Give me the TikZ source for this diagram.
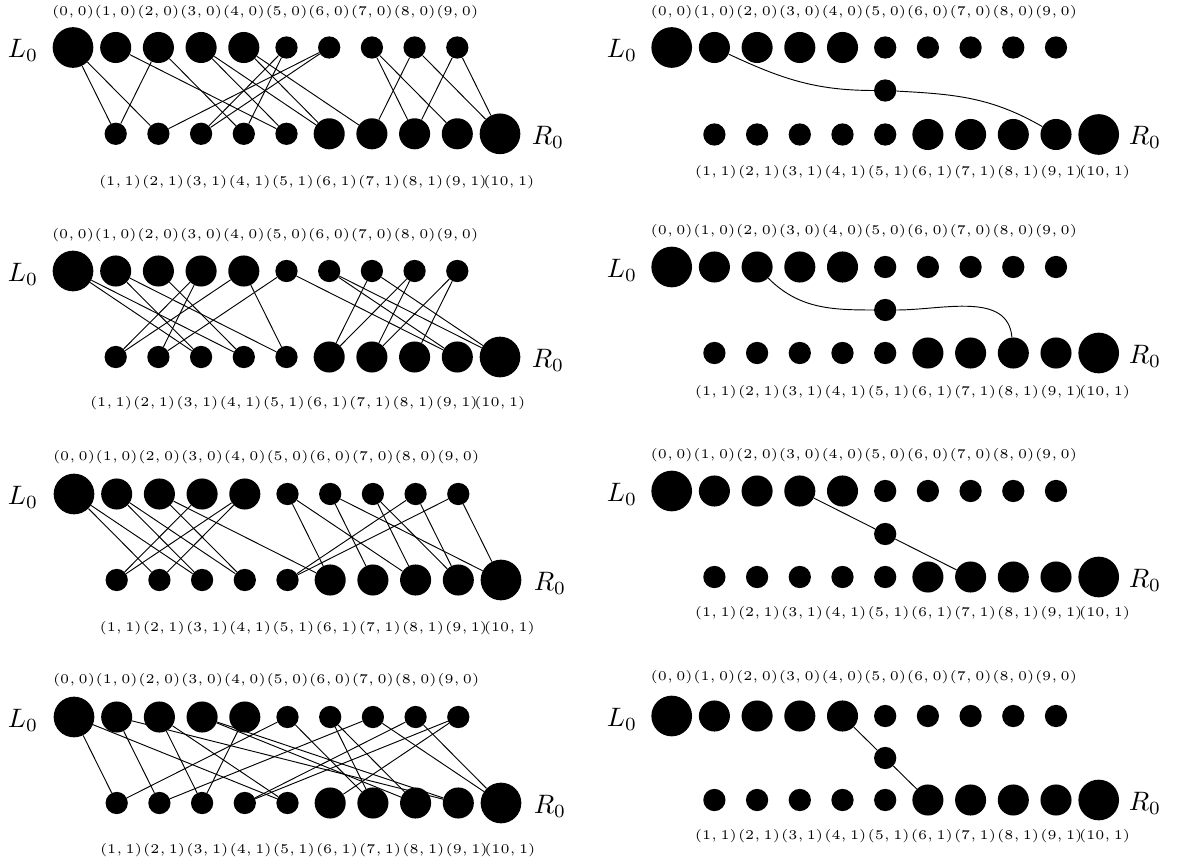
\documentclass[tikz,border=0pt]{standalone}
\tikzset{
  vtx/.style={circle,fill=black,draw=none,inner sep=0pt},
  coordlab/.style={font=\tiny,inner sep=0pt},
  sidelab/.style={inner sep=0pt},
  link/.style={line width=0.7pt},
}
% top row: prefix, x0, ytop, ylabel
\newcommand\toprow[4]{%
  \foreach \i in {0,...,9}{%
    \pgfmathsetmacro\xx{#2+42.7*\i}%
    \ifnum\i=0 \def\vsz{30.5pt}\else\ifnum\i<5 \def\vsz{23.3pt}\else\def\vsz{16.7pt}\fi\fi
    \node[vtx,minimum size=\vsz] (#1t\i) at (\xx,#3) {};
    \node[coordlab] (#1tl\i) at (\xx,#4) {\scalebox{2}{$(\i,0)$}};
  }}
% bottom row: prefix, x0, ybot, ylabel, label x of (1,1)
\newcommand\botrow[5]{%
  \foreach \j in {1,...,10}{%
    \pgfmathsetmacro\xx{#2+42.7*\j}%
    \pgfmathsetmacro\lx{#5+43.2*(\j-1)}%
    \ifnum\j=10 \def\vsz{30.5pt}\else\ifnum\j>5 \def\vsz{23.3pt}\else\def\vsz{16.7pt}\fi\fi
    \node[vtx,minimum size=\vsz] (#1b\j) at (\xx,#3) {};
    \node[coordlab] (#1bl\j) at (\lx,#4) {\scalebox{2}{$(\j,1)$}};
  }}
\newcommand\links[2]{\foreach \a/\b in {#2}{\draw[link] (#1t\a) -- (#1b\b);}}
\newcommand\sidetext[1]{\scalebox{2}{$#1$}}
\begin{document}
\begin{tikzpicture}[x=0.75pt,y=-0.75pt]
\useasboundingbox (0,0) rectangle (1178,866);
% ---------------- left column ----------------
% row 1
\toprow{a}{73}{47.5}{12}
\botrow{a}{73}{133.8}{182}{120}
\node[sidelab] (aL) at (23,50.5) {\sidetext{L_0}};
\node[sidelab] (aR) at (548,137) {\sidetext{R_0}};
\links{a}{0/1,0/2,1/5,2/1,2/4,3/5,3/6,4/6,4/7,5/3,5/4,6/2,6/3,7/8,7/9,8/7,8/10,9/8,9/10}
% row 2
\toprow{b}{73}{271}{235}
\botrow{b}{73}{357}{403}{111}
\node[sidelab] (bL) at (23,274) {\sidetext{L_0}};
\node[sidelab] (bR) at (548,360) {\sidetext{R_0}};
\links{b}{0/3,0/4,1/3,1/5,2/4,3/1,3/2,4/1,4/5,5/2,5/9,6/9,6/10,7/6,7/10,8/6,8/7,9/7,9/8}
% row 3
\toprow{c}{74}{494}{457}
\botrow{c}{74}{580}{628}{120.6}
\node[sidelab] (cL) at (23,497) {\sidetext{L_0}};
\node[sidelab] (cR) at (550,583) {\sidetext{R_0}};
\links{c}{0/2,0/3,1/3,1/4,2/4,2/6,3/1,4/1,4/2,5/6,5/8,6/7,6/10,7/8,7/9,8/5,8/9,9/5,9/10}
% row 4
\toprow{d}{74}{717}{680}
\botrow{d}{74}{803}{850}{121}
\node[sidelab] (dL) at (23,720) {\sidetext{L_0}};
\node[sidelab] (dR) at (550,806) {\sidetext{R_0}};
\links{d}{0/1,0/5,1/2,1/9,2/3,2/5,3/8,3/9,4/3,5/1,5/7,6/7,6/8,7/2,7/10,8/4,8/10,9/4,9/6}
% ---------------- right column ----------------
% row 1
\toprow{e}{671.7}{47.5}{11.7}
\botrow{e}{671.7}{134.5}{171.7}{715.8}
\node[vtx,minimum size=16.7pt] (em) at (885.2,90.5) {};
\node[sidelab] (eL) at (622,50.5) {\sidetext{L_0}};
\node[sidelab] (eR) at (1145,137.5) {\sidetext{R_0}};
\draw[link] (et1) to[out=-25,in=180] (em) to[out=-3,in=150] (eb9);
% row 2
\toprow{f}{671.7}{267}{231}
\botrow{f}{671.7}{353}{392}{715.8}
\node[vtx,minimum size=16.7pt] (fm) at (885.2,310) {};
\node[sidelab] (fL) at (622,270) {\sidetext{L_0}};
\node[sidelab] (fR) at (1145,356) {\sidetext{R_0}};
\draw[link] (ft2) to[out=-45,in=180] (fm) to[out=0,in=95] (fb8);
% row 3
\toprow{g}{671.7}{491}{455}
\botrow{g}{671.7}{577}{613}{715.8}
\node[vtx,minimum size=16.7pt] (gm) at (885.2,534) {};
\node[sidelab] (gL) at (622,494) {\sidetext{L_0}};
\node[sidelab] (gR) at (1145,580) {\sidetext{R_0}};
\draw[link] (gt3) -- (gm) -- (gb7);
% row 4
\toprow{h}{671.7}{716}{677}
\botrow{h}{671.7}{800}{836}{715.8}
\node[vtx,minimum size=16.7pt] (hm) at (885.2,758) {};
\node[sidelab] (hL) at (622,719) {\sidetext{L_0}};
\node[sidelab] (hR) at (1145,803) {\sidetext{R_0}};
\draw[link] (ht4) -- (hm) -- (hb6);
\end{tikzpicture}
\end{document}
